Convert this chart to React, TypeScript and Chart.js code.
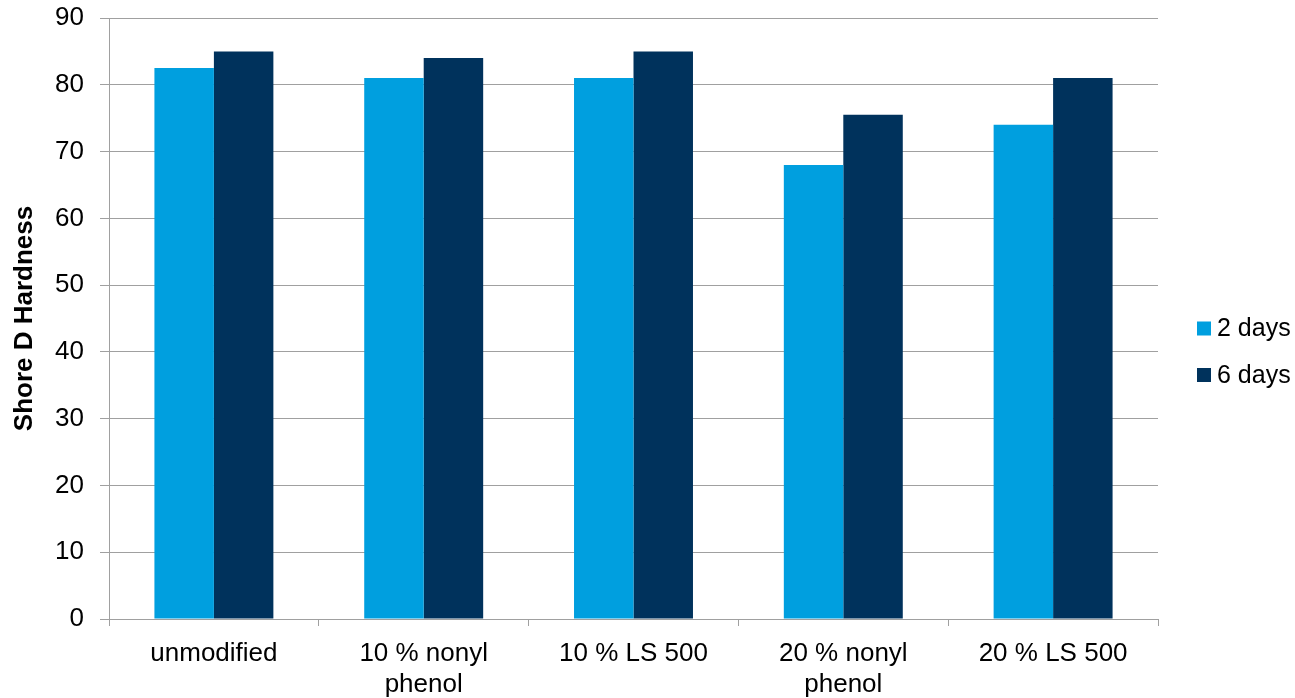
import React, { useEffect, useRef } from "react";
import { Chart, registerables } from "chart.js";

Chart.register(...registerables);

const categories: (string | string[])[] = [
  "unmodified",
  ["10 % nonyl", "phenol"],
  "10 % LS 500",
  ["20 % nonyl", "phenol"],
  "20 % LS 500",
];
const days2: number[] = [82.5, 81, 81, 68, 74];
const days6: number[] = [85, 84, 85, 75.5, 81];
const seriesLabels: string[] = ["2 days", "6 days"];
const seriesColors: string[] = ["#009FDF", "#00325C"];
const yTitle = "Shore D Hardness";

const FONT = "'Liberation Sans', Arial, sans-serif";
const GRID = "#A0A0A0";
const W = 1295;
const H = 698;

const legendPlugin = {
  id: "customLegend",
  afterDraw(chart: any) {
    const ctx = chart.ctx;
    ctx.save();
    ctx.font = `25px ${FONT}`;
    ctx.textBaseline = "middle";
    ctx.textAlign = "left";
    const centers = [328.5, 375];
    chart.data.datasets.forEach((ds: any, i: number) => {
      const cy = centers[i];
      ctx.fillStyle = ds.backgroundColor;
      ctx.fillRect(1197, cy - 7, 14, 14);
      ctx.fillStyle = "#000";
      ctx.fillText(ds.label, 1217, cy + 1);
    });
    ctx.restore();
  },
};

export default function App() {
  const ref = useRef<HTMLCanvasElement | null>(null);
  useEffect(() => {
    document.body.style.margin = "0";
    document.body.style.overflow = "hidden";
    if (!ref.current) return;
    const chart = new Chart(ref.current, {
      type: "bar",
      data: {
        labels: categories,
        datasets: [
          { label: seriesLabels[0], data: days2, backgroundColor: seriesColors[0] },
          { label: seriesLabels[1], data: days6, backgroundColor: seriesColors[1] },
        ],
      },
      options: {
        responsive: false,
        animation: false,
        devicePixelRatio: 1,
        layout: { padding: { top: 18, right: 137, left: 0, bottom: 0 } },
        datasets: {
          bar: { categoryPercentage: 0.567, barPercentage: 1.0 },
        },
        plugins: {
          legend: { display: false },
          tooltip: { enabled: false },
        },
        scales: {
          x: {
            grid: {
              display: true,
              drawOnChartArea: false,
              drawTicks: true,
              tickLength: 7,
              color: GRID,
              offset: true,
            },
            border: { display: true, color: GRID, width: 1 },
            ticks: {
              color: "#000",
              font: { family: FONT, size: 26 },
              padding: 12,
              maxRotation: 0,
              autoSkip: false,
            },
            afterFit: (scale: any) => {
              scale.height = 79;
              scale.paddingLeft = 0;
              scale.paddingRight = 0;
            },
          },
          y: {
            min: 0,
            max: 90,
            ticks: {
              stepSize: 10,
              color: "#000",
              font: { family: FONT, size: 26 },
              padding: 16,
            },
            grid: {
              color: GRID,
              tickLength: 9,
              drawTicks: true,
            },
            border: { display: true, color: GRID, width: 1 },
            title: {
              display: true,
              text: yTitle,
              color: "#000",
              font: { family: FONT, size: 26, weight: "bold" },
              padding: { top: 9, bottom: 0 },
            },
            afterFit: (scale: any) => {
              scale.width = 109;
              scale.paddingTop = 0;
              scale.paddingBottom = 0;
            },
          },
        },
      },
      plugins: [legendPlugin],
    });
    return () => chart.destroy();
  }, []);
  return (
    <div style={{ width: W, height: H }}>
      <canvas ref={ref} width={W} height={H} style={{ display: "block" }} />
    </div>
  );
}
